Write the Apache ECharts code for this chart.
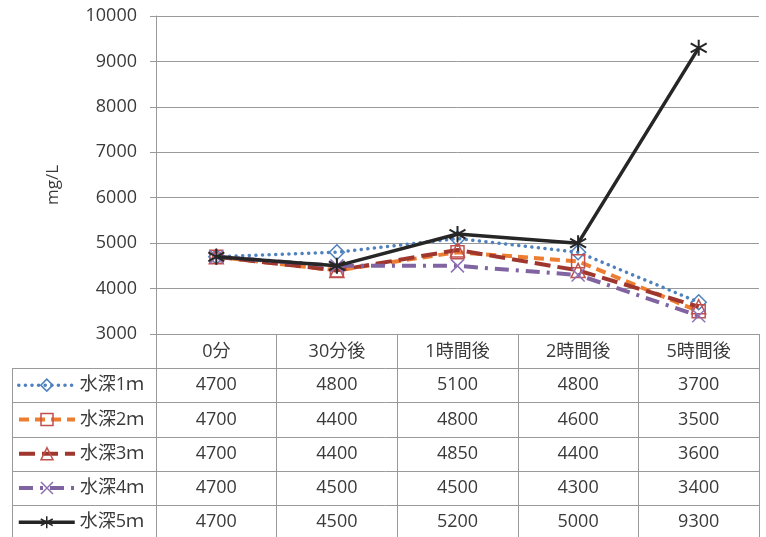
<!DOCTYPE html>
<html>
<head>
<meta charset="utf-8">
<script src="https://cdn.jsdelivr.net/npm/echarts@6/dist/echarts.min.js"></script>
<style>
  html, body { margin: 0; padding: 0; background: #ffffff; }
  #chart { width: 766px; height: 537px; }
</style>
</head>
<body>
<div id="chart"></div>
<script>
// Sampling times (columns of the data table / category axis)
const categories = ['0分', '30分後', '1時間後', '2時間後', '5時間後'];

// Concentration by water depth (mg/L)
const seriesNames = ['水深1ｍ', '水深2ｍ', '水深3ｍ', '水深4ｍ', '水深5ｍ'];
const depth1m = [4700, 4800, 5100, 4800, 3700];
const depth2m = [4700, 4400, 4800, 4600, 3500];
const depth3m = [4700, 4400, 4850, 4400, 3600];
const depth4m = [4700, 4500, 4500, 4300, 3400];
const depth5m = [4700, 4500, 5200, 5000, 9300];
const seriesValues = [depth1m, depth2m, depth3m, depth4m, depth5m];

// Value axis range and unit
const yMin = 3000;
const yMax = 10000;
const yStep = 1000;
const unitLabel = 'mg/L';

// ---- layout & styling ----
const FONT = "'Open Sans', 'Noto Sans CJK JP', sans-serif";
const TEXT_COLOR = '#3a3a3a';
const LINE_GRAY = '#9a9a9a';
const W = 766, H = 537;
const plot = { left: 156, right: 759, top: 16, bottom: 334 };
const table = { left: 12, headerH: 34, rowH: 34.3 };

const STAR = 'path://M5,0L5,10M0.6,2.2L9.4,7.8M0.6,7.8L9.4,2.2';
const CROSS = 'path://M0,0L10,10M0,10L10,0';

const looks = [
  { line: '#4F81BD', type: [0.1, 6.5], cap: 'round', width: 3.5, symbol: 'diamond', size: 15, mark: '#4F81BD' },
  { line: '#ED7D31', type: [10, 6], cap: 'butt', width: 4, symbol: 'rect', size: 13, mark: '#C0504D' },
  { line: '#A0372F', type: [16, 7], cap: 'butt', width: 4, symbol: 'triangle', size: 14, mark: '#C0504D' },
  { line: '#8064A2', type: [14, 7, 3, 7], cap: 'butt', width: 4, symbol: CROSS, size: 13, mark: '#8C72B5' },
  { line: '#262626', type: 'solid', cap: 'butt', width: 3.5, symbol: STAR, size: 16, mark: '#262626' }
];

const colW = (plot.right - plot.left) / categories.length;
const firstRowTop = plot.bottom + table.headerH;
const rowCenter = i => firstRowTop + table.rowH * (i + 0.5);

const series = seriesNames.map((name, i) => ({
  name: name,
  type: 'line',
  data: seriesValues[i],
  symbol: looks[i].symbol,
  symbolSize: looks[i].size,
  showAllSymbol: true,
  animation: false,
  lineStyle: {
    color: looks[i].line,
    width: looks[i].width,
    type: looks[i].type,
    cap: looks[i].cap
  },
  itemStyle: {
    color: 'rgba(0,0,0,0)',
    borderColor: looks[i].mark,
    borderWidth: i === 4 ? 2 : 1.5
  },
  emphasis: { disabled: true },
  z: 2 + i
}));

// One legend per table row so each key sits in its own cell
const legends = seriesNames.map((name, i) => ({
  data: [{
    name: name,
    itemStyle: { color: 'rgba(0,0,0,0)', borderColor: looks[i].mark, borderWidth: 1.5 },
    lineStyle: { color: looks[i].line, width: looks[i].width, type: looks[i].type, cap: looks[i].cap }
  }],
  left: 17,
  top: rowCenter(i) - 9,
  orient: 'horizontal',
  itemWidth: 56,
  itemHeight: 15,
  itemGap: 0,
  padding: 0,
  selectedMode: false,
  textStyle: { fontFamily: FONT, fontSize: 18, color: TEXT_COLOR }
}));

// Data table grid lines and cell values
const graphics = [];
for (let r = 0; r < seriesNames.length; r++) {
  const y = Math.round(firstRowTop + table.rowH * r) + 0.5;
  graphics.push({
    type: 'line', silent: true,
    shape: { x1: table.left, y1: y, x2: plot.right, y2: y },
    style: { stroke: LINE_GRAY, lineWidth: 1 }
  });
}
graphics.push({
  type: 'line', silent: true,
  shape: { x1: table.left + 0.5, y1: firstRowTop, x2: table.left + 0.5, y2: H },
  style: { stroke: LINE_GRAY, lineWidth: 1 }
});
seriesValues.forEach((vals, r) => {
  vals.forEach((v, c) => {
    graphics.push({
      type: 'text', silent: true,
      x: plot.left + colW * (c + 0.5),
      y: rowCenter(r),
      style: {
        text: String(v), align: 'center', verticalAlign: 'middle',
        font: '18px ' + FONT, fill: TEXT_COLOR
      }
    });
  });
});
// Rotated value-axis title
graphics.push({
  type: 'text', silent: true,
  x: 53, y: 185, rotation: Math.PI / 2,
  style: {
    text: unitLabel, align: 'center', verticalAlign: 'middle',
    font: '17px ' + FONT, fill: TEXT_COLOR
  }
});

const chart = echarts.init(document.getElementById('chart'), null, { renderer: 'canvas' });
chart.setOption({
  animation: false,
  backgroundColor: '#ffffff',
  grid: {
    left: plot.left,
    right: W - plot.right,
    top: plot.top,
    bottom: H - plot.bottom,
    containLabel: false
  },
  legend: legends,
  xAxis: {
    type: 'category',
    data: categories,
    boundaryGap: true,
    axisLine: { show: true, lineStyle: { color: LINE_GRAY, width: 1 } },
    axisTick: {
      show: true, interval: 0, alignWithLabel: false,
      length: H - plot.bottom + 5,
      lineStyle: { color: LINE_GRAY, width: 1 }
    },
    axisLabel: {
      interval: 0, margin: 9,
      fontFamily: FONT, fontSize: 18, color: TEXT_COLOR
    },
    splitLine: { show: false }
  },
  yAxis: {
    type: 'value',
    min: yMin, max: yMax, interval: yStep,
    axisLine: { show: true, lineStyle: { color: LINE_GRAY, width: 1 } },
    axisTick: { show: true, length: 6, lineStyle: { color: LINE_GRAY } },
    axisLabel: {
      margin: 19,
      formatter: v => String(v),
      fontFamily: FONT, fontSize: 18, color: TEXT_COLOR
    },
    splitLine: { show: true, lineStyle: { color: LINE_GRAY, width: 1 } }
  },
  series: series,
  graphic: graphics
});
</script>
</body>
</html>
